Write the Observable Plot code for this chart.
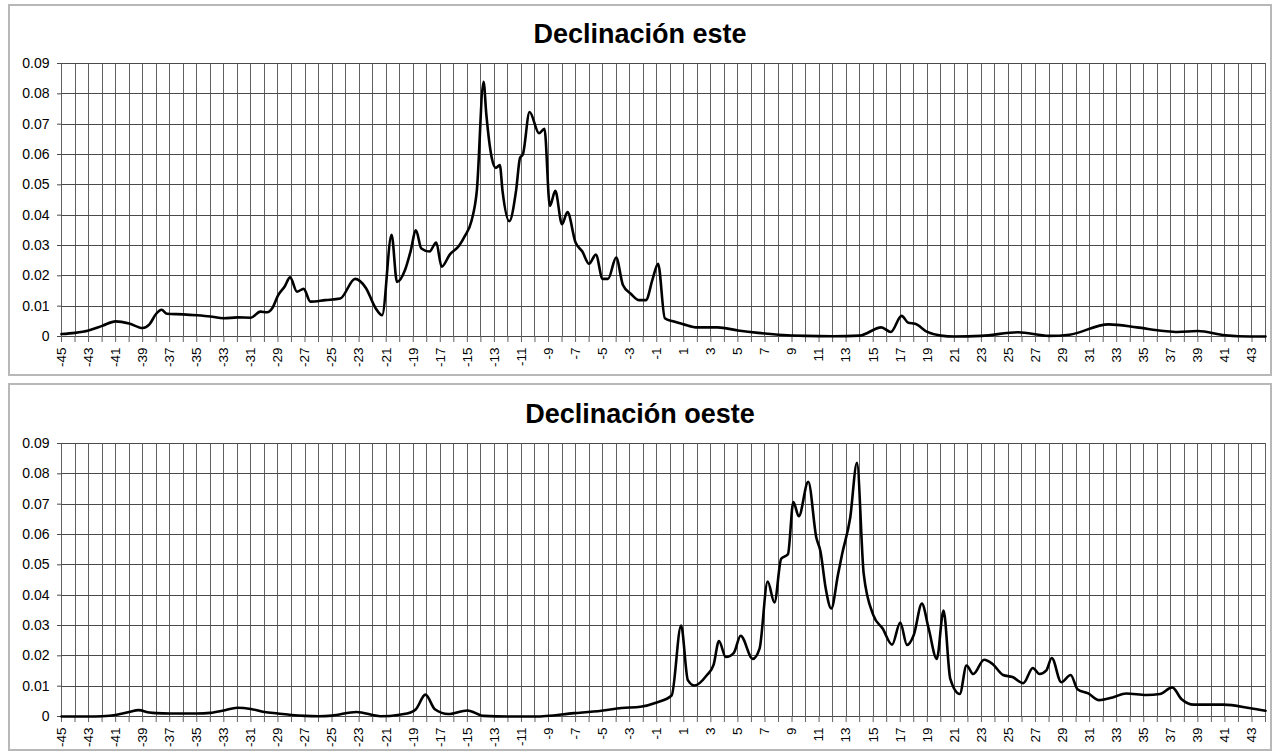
<!DOCTYPE html>
<html>
<head>
<meta charset="utf-8">
<script src="https://cdn.jsdelivr.net/npm/d3@7"></script>
<script src="https://cdn.jsdelivr.net/npm/@observablehq/plot@0.6"></script>
<style>
  html, body { margin: 0; padding: 0; background: #fff; }
  #root { position: relative; width: 1280px; height: 754px; overflow: hidden; background: #fff; }
  .frame { position: absolute; box-sizing: border-box; border: 2px solid #b8b8b8; }
  .title { position: absolute; left: 0; width: 1280px; text-align: center;
           font: bold 27px "Liberation Sans", Arial, sans-serif; line-height: 27px; color: #000; }
  .plot { position: absolute; left: 0; }
  .plot svg line { shape-rendering: crispEdges; }
</style>
</head>
<body>
<div id="root">
  <div class="frame" style="left:8px;top:4px;width:1264px;height:372px"></div>
  <div class="frame" style="left:8px;top:383px;width:1264px;height:368px"></div>
  <div class="title" id="t1" style="top:21px"></div>
  <div class="title" id="t2" style="top:401px"></div>
  <div class="plot" id="p1" style="top:50px"></div>
  <div class="plot" id="p2" style="top:430px"></div>
</div>
<script>
// ---- Data ----
const titles = ["Declinación este", "Declinación oeste"];

const esteX = [-45,-44,-43,-42,-41,-40,-39,-38.5,-38,-37.6,-37.2,-36,-35,-34,-33,-32,-31,-30.3,-29.8,-29.4,-29,-28.5,-28.1,-27.6,-27.1,-26.6,-25.5,-24.4,-23.3,-22.5,-21.8,-21.3,-20.6,-20.2,-19.6,-19.2,-18.8,-18.4,-17.8,-17.3,-16.9,-16.3,-15.6,-15.2,-14.7,-14.3,-13.8,-13.6,-13.2,-12.9,-12.6,-12.4,-11.9,-11.4,-11.1,-10.9,-10.4,-9.7,-9.3,-8.9,-8.5,-8.0,-7.6,-7.0,-6.5,-6.0,-5.5,-5.0,-4.6,-4.0,-3.5,-2.9,-2.3,-1.8,-1.3,-0.9,-0.4,0.2,1,2,3.5,5,6.5,8,10,12,14,15.6,16.3,17.1,17.6,18.1,19,20,21,23,25.7,28,29.5,32.4,34.5,36.5,37.5,39,41,42,44];
const esteY = [0.0008,0.0012,0.002,0.0035,0.005,0.0043,0.0028,0.004,0.0075,0.0088,0.0075,0.0073,0.007,0.0066,0.006,0.0063,0.0062,0.0082,0.008,0.0095,0.0135,0.0165,0.0195,0.0148,0.0157,0.0115,0.012,0.0125,0.019,0.016,0.0095,0.007,0.0335,0.018,0.022,0.028,0.035,0.029,0.028,0.031,0.023,0.027,0.030,0.033,0.038,0.048,0.084,0.0734,0.059,0.0556,0.0565,0.048,0.038,0.048,0.059,0.060,0.074,0.067,0.0685,0.043,0.048,0.037,0.041,0.031,0.028,0.024,0.027,0.019,0.019,0.026,0.017,0.014,0.012,0.012,0.019,0.024,0.006,0.005,0.004,0.003,0.003,0.002,0.0012,0.0006,0.0002,0.0001,0.0003,0.003,0.0015,0.0068,0.0045,0.0042,0.0015,0.0003,0,0.0002,0.0014,0.0002,0.0006,0.004,0.003,0.0018,0.0015,0.0018,0.0004,0.0001,0];

const oesteX = [-45,-44,-43,-42,-41,-40,-39.3,-38.5,-38,-37,-35,-34,-33,-32,-31,-30,-29,-28,-27,-26,-25,-23.2,-21.4,-20,-19.2,-18.8,-18.1,-17.4,-16.4,-15,-13.8,-12,-10,-7.1,-5.1,-3.6,-2.2,-1,0.1,0.8,1.3,1.8,2.7,3.2,3.6,4.1,4.7,5.2,6.1,6.6,7.2,7.7,8.2,8.7,9.1,9.5,10.2,10.8,11.1,11.5,11.9,12.4,12.7,13.3,13.8,14.3,15,15.7,16.4,17,17.5,18,18.6,19.1,19.7,20.2,20.7,21.4,21.9,22.4,23.2,23.8,24.6,25.3,26.1,26.8,27.3,27.8,28.2,28.9,29.6,30.1,30.9,31.7,32.7,33.7,35.2,36.2,37.1,37.8,38.7,40.9,42.9,44];
const oesteY = [0,0,0,0.0001,0.0005,0.0015,0.0021,0.0013,0.0011,0.001,0.001,0.0012,0.002,0.0029,0.0025,0.0015,0.001,0.0005,0.0002,0.0001,0.0003,0.0015,0.0001,0.0006,0.0013,0.0024,0.0072,0.0024,0.0008,0.002,0.0002,0,0,0.0011,0.0019,0.0028,0.0032,0.0046,0.0069,0.030,0.012,0.0102,0.0136,0.017,0.0249,0.0196,0.021,0.0266,0.019,0.0224,0.0445,0.0376,0.052,0.0535,0.0707,0.066,0.0774,0.0589,0.0545,0.042,0.0356,0.0468,0.0535,0.0655,0.0836,0.047,0.0335,0.029,0.0237,0.031,0.0236,0.0269,0.0372,0.029,0.019,0.0349,0.0124,0.0074,0.0168,0.014,0.0187,0.0174,0.0137,0.013,0.011,0.016,0.014,0.0152,0.0193,0.0113,0.0137,0.009,0.0076,0.0054,0.0063,0.0076,0.0071,0.0074,0.0096,0.0057,0.0039,0.0039,0.0027,0.0019];

const xCategories = d3.range(-45, 45);              // -45 ... 44, one grid line each
const yTicks = [0,0.01,0.02,0.03,0.04,0.05,0.06,0.07,0.08,0.09];

function panel(xs, ys) {
  const data = xs.map((x, i) => ({x, y: ys[i]}));
  return Plot.plot({
    width: 1280,
    height: 324,
    marginLeft: 61,
    marginRight: 15,
    marginTop: 13,
    marginBottom: 38,
    style: {fontFamily: '"Liberation Sans", Arial, sans-serif', fontSize: "13px", color: "#000", background: "transparent", overflow: "visible"},
    x: {domain: [-45, 44], axis: null},
    y: {domain: [0, 0.09], axis: null},
    marks: [
      Plot.ruleX(xCategories, {stroke: "#606060", strokeWidth: 1, strokeOpacity: 1}),
      Plot.ruleY(yTicks, {stroke: "#4a4a4a", strokeWidth: 1, strokeOpacity: 1}),
      Plot.axisX({
        ticks: xCategories,
        tickFormat: d => (Math.abs(d) % 2 === 1 ? String(d) : ""),
        tickRotate: -90, tickSize: 6, tickPadding: 5,
        stroke: "#606060", strokeOpacity: 1, fontSize: 13.5, label: null
      }),
      Plot.axisY({
        ticks: yTicks,
        tickFormat: d => (d === 0 ? "0" : d.toFixed(2)),
        tickSize: 4, tickPadding: 8,
        stroke: "#4a4a4a", strokeOpacity: 1, fontSize: 14, label: null
      }),
      Plot.line(data, {x: "x", y: "y", curve: "monotone-x", stroke: "#000", strokeWidth: 2.6})
    ]
  });
}

document.getElementById("t1").textContent = titles[0];
document.getElementById("t2").textContent = titles[1];
document.getElementById("p1").appendChild(panel(esteX, esteY));
document.getElementById("p2").appendChild(panel(oesteX, oesteY));
</script>
</body>
</html>
